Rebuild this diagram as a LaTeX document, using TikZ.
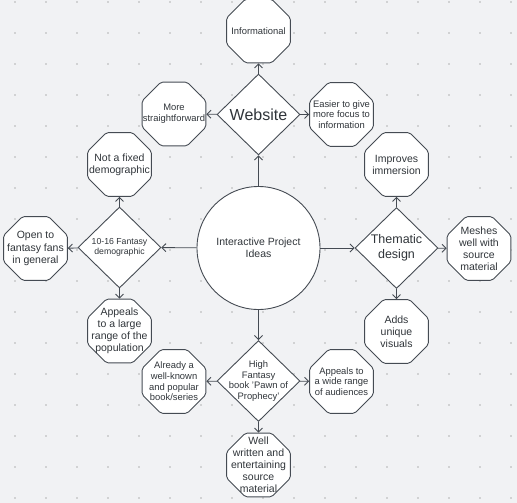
\documentclass[tikz,border=0pt]{standalone}
\usepackage{fontspec}
\setmainfont{Liberation Sans}
\usetikzlibrary{shapes.geometric, arrows.meta}
\definecolor{ink}{HTML}{454B53}
\definecolor{paper}{HTML}{F1F2F4}
\tikzset{
x=1pt, y=-1pt, % one unit is one pixel of the sketch, y grows downwards
-{Straight Barb[length=4pt,width=8pt]}, % makes the edges directed
every edge/.style={draw=ink, line width=0.9pt}, % look of every connector
idea/.style={circle, draw=ink, fill=white, line width=0.9pt, minimum size=123pt, inner sep=0pt}, % the centre circle
branch/.style={diamond, draw=ink, fill=white, line width=0.9pt, minimum width=83pt, minimum height=81pt, inner sep=0pt}, % the four themes
octa/.style={regular polygon, regular polygon sides=8, draw=ink, fill=white, line width=0.9pt, minimum size=69pt, inner sep=0pt, rounded corners=2pt}, % the notes
txt/.style={align=center, text=ink!70!black, inner sep=0pt}, % text inside the shapes
smalltxt/.style={txt, font=\fontsize{9.4}{10.6}\selectfont},
midtxt/.style={txt, font=\fontsize{10.5}{12.1}\selectfont},
}

\begin{document}
\begin{tikzpicture}

\fill[paper] (0,0) rectangle (517,503);
\useasboundingbox (0,0) rectangle (517,503);
\foreach \i in {0,...,16}
  \foreach \j in {0,...,16}
    \fill[black!30] (15+31*\i,2+31*\j) circle (0.8pt);

\node[idea, label={[midtxt]center:{Interactive Project\\Ideas}}] at (258.5,248) (cen) {};

\node[branch, label={[txt, font=\fontsize{16}{18}\selectfont]center:{Website}}] at (258.5,114.5) (web) {};
\node[octa, label={[smalltxt]center:{Informational}}] at (258.5,31) (info) {};
\node[octa, label={[smalltxt]center:{More\\straightforward}}] at (174,114) (more) {};
\node[octa, label={[smalltxt]center:{Easier to give\\more focus to\\information}}] at (341.5,114.5) (easy) {};

\node[branch, label={[txt, font=\fontsize{8.7}{10.4}\selectfont]center:{10-16 Fantasy\\demographic}}] at (119.5,247.5) (fan) {};
\node[octa, label={[midtxt]center:{Not a fixed\\demographic}}] at (119.5,164.5) (nfix) {};
\node[octa, label={[midtxt]center:{Open to\\fantasy fans\\in general}}] at (35.5,248.5) (open) {};
\node[octa, label={[midtxt]center:{Appeals\\to a large\\range of the\\population}}] at (119.5,331) (large) {};

\node[branch, label={[txt, font=\fontsize{12.5}{14.5}\selectfont]center:{Thematic\\design}}] at (396.5,248) (them) {};
\node[octa, label={[midtxt]center:{Improves\\immersion}}] at (396.5,164.5) (imm) {};
\node[octa, label={[midtxt]center:{Meshes\\well with\\source\\material}}] at (479,248.5) (mesh) {};
\node[octa, label={[midtxt]center:{Adds\\unique\\visuals}}] at (396.5,331.5) (adds) {};

\node[branch, label={[smalltxt]center:{High\\Fantasy\\book 'Pawn of\\Prophecy'}}] at (258.5,381) (book) {};
\node[octa, label={[smalltxt]center:{Already a\\well-known\\and popular\\book/series}}] at (174,381.5) (known) {};
\node[octa, label={[smalltxt]center:{Appeals to\\a wide range\\of audiences}}] at (341.5,381.5) (wide) {};
\node[octa, label={[midtxt]center:{Well\\written and\\entertaining\\source\\material}}] at (258.5,465) (well) {};

\draw (cen) edge (web);
\draw (web) edge (info);
\draw (web) edge (more);
\draw (web) edge (easy);

\draw (cen) edge (fan);
\draw (fan) edge (nfix);
\draw (fan) edge (open);
\draw (fan) edge (large);

\draw (cen) edge (them);
\draw (them) edge (imm);
\draw (them) edge (mesh);
\draw (them) edge (adds);

\draw (cen) edge (book);
\draw (book) edge (known);
\draw (book) edge (wide);
\draw (book) edge (well);

\end{tikzpicture}
\end{document}
